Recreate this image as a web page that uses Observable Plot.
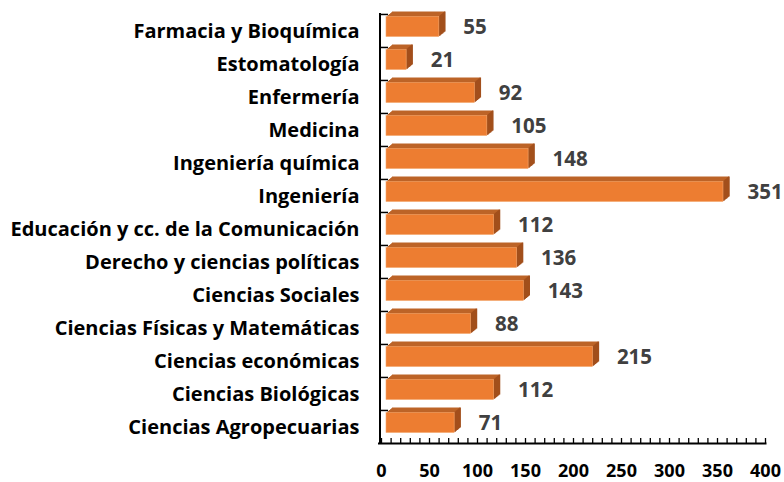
<!DOCTYPE html>
<html><head><meta charset="utf-8">
<script src="https://cdn.jsdelivr.net/npm/d3@7"></script>
<script src="https://cdn.jsdelivr.net/npm/@observablehq/plot@0.6"></script>
<style>body{margin:0;background:#fff} svg{font-family:"Open Sans", sans-serif}</style>
</head><body><div id="chart"></div>
<script>
const categories = ["Farmacia y Bioquímica","Estomatología","Enfermería","Medicina","Ingeniería química","Ingeniería","Educación y cc. de la Comunicación","Derecho y ciencias políticas","Ciencias Sociales","Ciencias Físicas y Matemáticas","Ciencias económicas","Ciencias Biológicas","Ciencias Agropecuarias"];
const values = [55,21,92,105,148,351,112,136,143,88,215,112,71];
const xTickLabels = [0,50,100,150,200,250,300,350,400];
const minorTicks = d3.range(0, 401, 10);
const data = categories.map((c, i) => ({category: c, value: values[i]}));

const W = 784, H = 482, mT = 13, mB = 39, mL = 381, mR = 19;
const frameH = H - mT - mB;
const step = frameH / categories.length;
const frontDx = 5, depthX = 6, depthY = 5, N = 6;
const inT = 2.5, inB = 10.5;

const marks = [];
for (let i = N; i >= 1; i--) {
  marks.push(Plot.barX(data, {y: "category", x1: 0, x2: "value", fill: "#bd6428", insetTop: inT, insetBottom: inB, dx: frontDx + i*depthX/N, dy: -i*depthY/N}));
}
for (let i = 1; i <= N; i++) {
  marks.push(Plot.tickX(data, {y: "category", x: "value", stroke: "#a24f1c", strokeWidth: 1.5, insetTop: inT, insetBottom: inB, dx: frontDx + i*depthX/N - 0.5, dy: -i*depthY/N}));
}
marks.push(Plot.barX(data, {y: "category", x1: 0, x2: "value", fill: "#ed7d31", stroke: "#f4a56c", strokeWidth: 0.6, insetTop: inT, insetBottom: inB, dx: frontDx}));
marks.push(Plot.text(data, {y: "category", x: "value", text: d => String(d.value), textAnchor: "start", dx: frontDx + 24, dy: -(inB - inT)/2, fill: "#404040", fontSize: 20.5, fontWeight: "bold"}));
// axes lines and ticks
marks.push(Plot.ruleX([0], {stroke: "#000", strokeWidth: 2, dx: -1.5}));
marks.push(Plot.frame({anchor: "bottom", stroke: "#000", strokeWidth: 2, insetLeft: -2.5}));
marks.push(Plot.ruleX(minorTicks, {x: d => d, stroke: "#000", strokeWidth: 1.3, insetTop: frameH - 5}));
marks.push(Plot.ruleY(categories, {y: d => d, x1: 0, x2: 0, insetLeft: -2, insetRight: -7, dy: -step/2, stroke: "#000", strokeWidth: 1.5}));
marks.push(Plot.axisX({ticks: xTickLabels, tickSize: 0, tickPadding: 21, fontSize: 18, fontWeight: "bold", fill: "#000"}));
marks.push(Plot.axisY({tickSize: 0, tickPadding: 22, fontSize: 20, fontWeight: "bold", fill: "#000", dy: 1}));

const chart = Plot.plot({
  width: W, height: H,
  marginTop: mT, marginBottom: mB, marginLeft: mL, marginRight: mR,
  x: {domain: [0, 400], label: null},
  y: {domain: categories, padding: 0, label: null},
  style: {fontFamily: "'Open Sans', sans-serif", background: "#fff", overflow: "visible"},
  marks
});
document.getElementById("chart").appendChild(chart);
</script>
</body></html>
